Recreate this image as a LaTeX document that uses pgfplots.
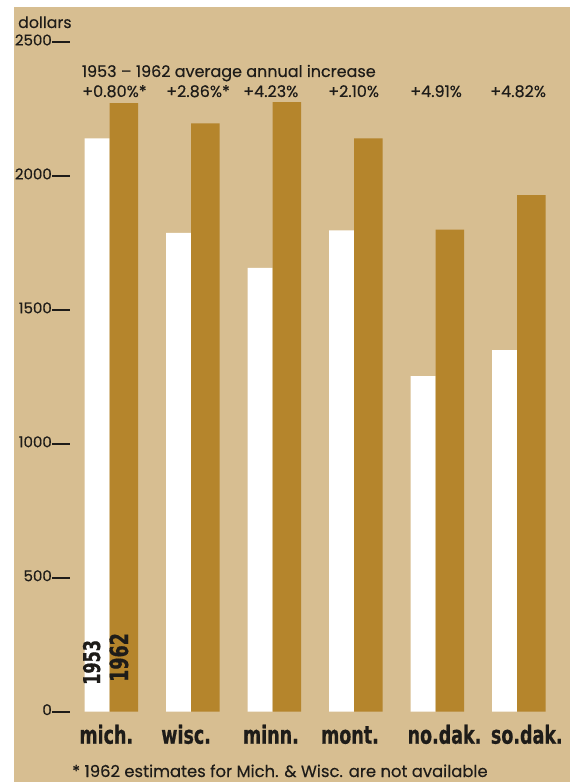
\documentclass[border=0pt]{standalone}
\usepackage{fontspec}
\usepackage{pgfplots}
\usepackage{pgfplotstable}
\pgfplotsset{compat=1.18}
\setmainfont[FakeBold=0.3]{Poppins}
\newfontfamily\labfont[FakeStretch=0.7,FakeBold=0.6,UprightFont={* Bold}]{DejaVu Sans}
\definecolor{tanbg}{RGB}{215,190,145}
\definecolor{gold}{RGB}{181,133,44}
\definecolor{txt}{RGB}{30,28,25}

\pgfplotstableread{
x y
0 2140
1 1787
2 1657
3 1797
4 1253
5 1350
}\tblA
\pgfplotstableread{
x y
0 2272
1 2196
2 2276
3 2140
4 1800
5 1928
}\tblB

\begin{document}
\begin{tikzpicture}
\useasboundingbox (0pt,0pt) rectangle (574pt,782pt);
\fill[tanbg] (14pt,0pt) rectangle (570pt,775pt);
\begin{axis}[
  at={(70pt,70.3pt)}, anchor=south west,
  scale only axis, width=500pt, height=669.7pt,
  xmin=-0.4847, xmax=5.650, ymin=0, ymax=2500,
  axis line style={draw=none},
  ybar,
  ytick={0,500,1000,1500,2000,2500},
  ytick pos=left, xtick pos=bottom,
  tick align=outside, major tick length=18pt,
  ytick style={line width=2.2pt, txt},
  /pgf/number format/1000 sep={},
  /pgf/number format/assume math mode=true,
  yticklabel style={font=\fontsize{15}{15}\selectfont, text=txt, yshift=2pt, inner xsep=0pt},
  xtick={-0.04,0.94,1.98,2.95,4.11,5.12},
  xticklabels={mich.,wisc.,minn.,mont.,no.dak.,so.dak.},
  xtick style={draw=none},
  xticklabel style={font=\labfont\fontsize{25}{25}\selectfont, text=txt, anchor=base, yshift=-14pt},
  clip=false,
]
\addplot[fill=white, draw=none, bar width=25pt, bar shift=-12.5pt] table {\tblA};
\addplot[fill=gold, draw=none, bar width=28.5pt, bar shift=14.25pt] table {\tblB};
\end{axis}
\node[anchor=base west, font=\fontsize{15.8}{16}\selectfont, text=txt, inner sep=0pt] at (18pt,754pt) {dollars};
\node[anchor=base west, font=\fontsize{16}{16}\selectfont, text=txt, inner sep=0pt] at (81.7pt,705pt) {1953 – 1962 average annual increase};
\begin{scope}[every node/.style={anchor=base west, font=\fontsize{16}{16}\selectfont, text=txt, inner sep=0pt}]
\node at (82pt,685pt) {+0.80\%*};
\node at (166pt,685pt) {+2.86\%*};
\node at (243pt,685pt) {+4.23\%};
\node at (328pt,685pt) {+2.10\%};
\node at (410pt,685pt) {+4.91\%};
\node at (490pt,685pt) {+4.82\%};
\end{scope}
\node[rotate=90, anchor=base west, font=\labfont\fontsize{23}{23}\selectfont, text=txt, inner sep=0pt] at (100pt,97pt) {1953};
\node[rotate=90, anchor=base west, font=\labfont\fontsize{25}{25}\selectfont, text=txt, inner sep=0pt] at (128pt,100pt) {1962};
\node[anchor=base west, font=\fontsize{16.4}{16.4}\selectfont, text=txt, inner sep=0pt] at (72pt,5pt) {* 1962 estimates for Mich. \& Wisc. are not available};
\end{tikzpicture}
\end{document}
